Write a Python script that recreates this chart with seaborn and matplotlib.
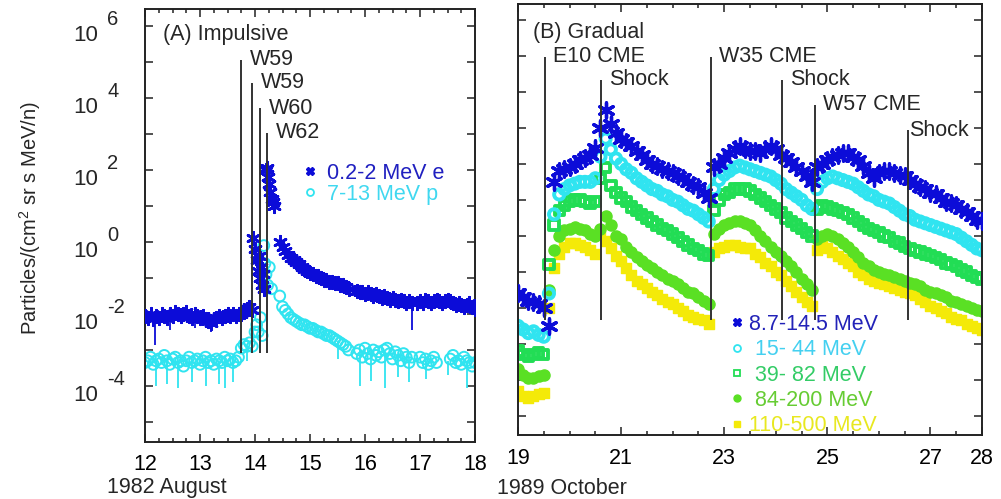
import numpy as np
import seaborn as sns
import matplotlib
matplotlib.use("Agg")
import matplotlib.pyplot as plt
from matplotlib.lines import Line2D
from matplotlib.ticker import FixedLocator, MultipleLocator, NullFormatter, NullLocator

sns.set_theme(style="ticks")
plt.rcParams['font.family'] = ['Liberation Sans', 'DejaVu Sans']
plt.rcParams['mathtext.fontset'] = 'custom'
plt.rcParams['mathtext.rm'] = 'Liberation Sans'

# ---------------- (A) impulsive, 1982 August (log10 flux) ----------------
e_v1 = [-2.05, -2.10, -2.00, -2.15, -2.05, -2.10, -2.00, -2.05, -2.10, -2.00,
        -2.05, -1.95, -2.00, -2.05, -2.00, -1.95, -2.05, -2.10, -2.00, -2.05,
        -2.10, -2.05, -2.15, -2.20, -2.25, -2.15, -2.10, -2.05, -2.10, -2.05,
        -2.00, -2.05, -2.00, -2.05, -2.00, -2.00, -1.95, -1.85, -1.80, -1.90]
e_t2 = [13.97, 14.0, 14.03, 14.05, 14.07, 14.09, 14.11, 14.13, 14.15, 14.17,
        14.2, 14.22, 14.24, 14.26, 14.28, 14.3, 14.32, 14.34]
e_v2 = [0.1, -0.2, -0.5, -0.8, -0.4, -1.0, -0.7, -1.2, -0.9, -1.3,
        2.0, 2.05, 1.8, 1.6, 1.4, 1.2, 1.1, 1.0]
e_v3 = [0.0, -0.15, -0.25, -0.35, -0.45, -0.5, -0.55, -0.6, -0.7, -0.75,
        -0.8, -0.85, -0.9, -0.95, -0.95, -1.0, -1.05, -1.05, -1.1, -1.1,
        -1.15, -1.15, -1.2, -1.2, -1.25, -1.3]
e_v4 = [-1.35, -1.4, -1.4, -1.45, -1.4, -1.45, -1.5, -1.45, -1.5, -1.55,
        -1.5, -1.55, -1.6, -1.55, -1.6, -1.65, -1.6, -1.65, -1.7, -1.65, -1.7]
e_v5 = [-1.7, -1.65, -1.7, -1.6, -1.65, -1.7, -1.65, -1.6, -1.65, -1.7,
        -1.65, -1.6, -1.65, -1.7, -1.75, -1.7, -1.75, -1.8, -1.75, -1.7,
        -1.8, -1.85]
e_bar_t = [12.18, 12.45, 12.9, 13.2, 16.85]
e_bar_hi = [-2.1, -2.1, -2.05, -2.2, -1.7]
e_bar_lo = [-2.85, -2.45, -2.4, -2.5, -2.45]

p_v1 = [-3.35, -3.3, -3.2, -3.4, -3.3, -3.25, -3.35, -3.15, -3.3, -3.4,
        -3.25, -3.2, -3.35, -3.3, -3.45, -3.3, -3.2, -3.35, -3.3, -3.25,
        -3.4, -3.3, -3.2, -3.35, -3.3, -3.4, -3.25, -3.3, -3.35, -3.2,
        -3.3, -3.25, -3.35, -3.3, -3.2]
p_t2 = [13.75, 13.8, 13.85, 13.9, 13.95, 14.0, 14.03, 14.06, 14.1, 14.13,
        14.16, 14.18, 14.2, 14.23, 14.26, 14.3]
p_v2 = [-2.95, -2.85, -2.9, -2.8, -2.9, -2.5, -2.3, -2.5, -2.1, -2.6,
        -0.1, -0.6, -0.9, -1.2, -0.7, -1.3]
p_v3 = [-1.5, -1.8, -1.9, -2.0, -2.1, -2.15, -2.2, -2.25, -2.3, -2.3,
        -2.35, -2.4, -2.4, -2.45, -2.5, -2.5, -2.55, -2.6, -2.6, -2.65,
        -2.7, -2.75, -2.8, -2.85, -2.9, -3.0]
p_v4 = [-3.1, -3.0, -3.2, -2.95, -3.1, -3.25, -3.0, -3.15, -3.05, -3.2,
        -3.0, -2.95, -3.1, -3.25, -3.05, -3.15, -3.3, -3.1, -3.2, -3.35, -3.2]
p_v5 = [-3.2, -3.35, -3.25, -3.4, -3.3, -3.2, -3.35]
p_v6 = [-3.25, -3.15, -3.35, -3.3, -3.4, -3.2, -3.3, -3.35, -3.45, -3.35]
p_bar_t = [12.2, 12.4, 12.6, 12.85, 13.1, 13.35, 13.45, 13.6, 13.85,
           15.5, 15.9, 16.1, 16.36, 16.6, 16.8, 17.1, 17.5, 17.85]
p_bar_hi = [-3.3, -3.3, -3.3, -3.3, -3.3, -3.3, -3.3, -3.3, -2.9,
            -2.75, -3.0, -3.0, -3.1, -3.1, -3.2, -3.3, -3.3, -3.3]
p_bar_lo = [-4.0, -3.95, -4.05, -3.9, -4.0, -3.95, -4.05, -3.9, -3.3,
            -3.25, -4.0, -3.85, -4.05, -3.75, -3.9, -3.8, -3.7, -4.05]

ev_a_t = [13.745, 13.945, 14.09, 14.22]
ev_a_top = [5.06, 4.42, 3.72, 3.03]
ev_a_lab = ['W59', 'W59', 'W60', 'W62']

# ---------------- (B) gradual, 1989 October (log10 flux, every 0.1 day) ----------------
p8_14 = [-1.6, -1.7, -1.8, -1.85, -1.9, -2.0, -2.5, 1.5, 1.8, 1.85,
         1.9, 2.0, 2.1, 2.15, 2.25, 2.45, 3.0, 3.5, 3.1, 2.85,
         2.7, 2.6, 2.5, 2.35, 2.25, 2.1, 2.0, 1.95, 1.85, 1.8,
         1.75, 1.65, 1.6, 1.5, 1.4, 1.35, 1.2, 1.05, 1.9, 2.0,
         2.15, 2.3, 2.4, 2.5, 2.4, 2.35, 2.35, 2.3, 2.4, 2.5,
         2.4, 2.25, 2.15, 2.05, 1.9, 1.8, 1.65, 1.5, 1.9, 2.0,
         2.1, 2.2, 2.25, 2.3, 2.3, 2.2, 2.1, 1.95, 1.75, 1.6,
         1.75, 1.8, 1.8, 1.75, 1.7, 1.65, 1.55, 1.45, 1.35, 1.3,
         1.2, 1.15, 1.05, 0.95, 0.9, 0.85, 0.75, 0.65, 0.55, 0.45,
         0.4]
p15_44 = [-2.5, -2.6, -2.7, -2.65, -2.75, -2.8, -1.6, 0.6, 1.15, 1.3,
          1.4, 1.45, 1.5, 1.5, 1.5, 1.6, 2.2, 2.7, 2.4, 2.15,
          2.0, 1.85, 1.75, 1.6, 1.5, 1.4, 1.3, 1.25, 1.15, 1.1,
          1.0, 0.95, 0.85, 0.75, 0.7, 0.6, 0.5, 0.4, 1.3, 1.55,
          1.7, 1.8, 1.9, 1.95, 1.9, 1.85, 1.8, 1.75, 1.7, 1.65,
          1.55, 1.45, 1.3, 1.2, 1.1, 1.0, 0.85, 0.75, 1.3, 1.5,
          1.6, 1.65, 1.6, 1.55, 1.5, 1.45, 1.35, 1.25, 1.15, 1.1,
          1.0, 0.95, 0.9, 0.8, 0.7, 0.6, 0.55, 0.45, 0.4, 0.35,
          0.3, 0.25, 0.2, 0.15, 0.1, 0.05, -0.05, -0.15, -0.25, -0.35,
          -0.4]
p39_82 = [-3.2, -3.3, -3.35, -3.3, -3.25, -3.3, -0.8, 0.3, 0.7, 0.85,
          0.95, 1.0, 1.0, 0.95, 0.9, 0.95, 1.6, 1.9, 1.4, 1.2,
          1.05, 0.95, 0.8, 0.7, 0.6, 0.5, 0.4, 0.3, 0.2, 0.15,
          0.05, -0.05, -0.15, -0.25, -0.35, -0.4, -0.5, -0.55, 0.7, 1.0,
          1.15, 1.2, 1.3, 1.3, 1.3, 1.25, 1.15, 1.05, 0.95, 0.85,
          0.75, 0.65, 0.5, 0.4, 0.3, 0.2, 0.1, 0.0, 0.75, 0.85,
          0.8, 0.75, 0.7, 0.65, 0.6, 0.5, 0.4, 0.3, 0.2, 0.15,
          0.1, 0.0, -0.05, -0.15, -0.2, -0.3, -0.35, -0.4, -0.45, -0.5,
          -0.55, -0.6, -0.65, -0.75, -0.8, -0.85, -0.95, -1.0, -1.1, -1.15,
          -1.2]
p84_200 = [-3.7, -3.85, -3.95, -3.95, -3.9, -3.85, -1.5, -0.4, 0.0, 0.15,
           0.2, 0.25, 0.2, 0.15, 0.05, 0.0, 0.2, 0.55, 0.3, 0.0,
           -0.1, -0.3, -0.45, -0.6, -0.7, -0.8, -0.9, -1.0, -1.1, -1.2,
           -1.25, -1.35, -1.45, -1.55, -1.6, -1.7, -1.8, -1.9, 0.05, 0.2,
           0.3, 0.35, 0.4, 0.4, 0.35, 0.3, 0.15, 0.0, -0.15, -0.3,
           -0.45, -0.55, -0.7, -0.85, -1.0, -1.2, -1.35, -1.5, -0.1, 0.0,
           0.05, 0.0, -0.1, -0.2, -0.3, -0.45, -0.6, -0.75, -0.85, -0.95,
           -1.0, -1.05, -1.1, -1.15, -1.2, -1.25, -1.3, -1.35, -1.4, -1.5,
           -1.55, -1.6, -1.65, -1.7, -1.8, -1.85, -1.9, -1.95, -2.0, -2.05,
           -2.1]
p110_500 = [-4.3, -4.45, -4.5, -4.45, -4.4, -4.35, -2.0, -0.9, -0.5, -0.3,
            -0.2, -0.2, -0.25, -0.3, -0.4, -0.5, 0.1, -0.15, -0.35, -0.55,
            -0.7, -0.9, -1.1, -1.25, -1.35, -1.45, -1.55, -1.65, -1.75, -1.85,
            -1.9, -2.0, -2.1, -2.2, -2.25, -2.3, -2.35, -2.45, -0.45, -0.35,
            -0.3, -0.25, -0.25, -0.3, -0.35, -0.35, -0.5, -0.6, -0.75, -0.85,
            -1.0, -1.1, -1.25, -1.4, -1.55, -1.7, -1.85, -1.95, -0.4, -0.25,
            -0.35, -0.45, -0.55, -0.65, -0.75, -0.85, -1.0, -1.1, -1.2, -1.25,
            -1.3, -1.35, -1.4, -1.45, -1.5, -1.55, -1.6, -1.65, -1.75, -1.85,
            -1.95, -2.0, -2.1, -2.15, -2.25, -2.3, -2.35, -2.45, -2.5, -2.55,
            -2.6]

ev_b_t = [19.52, 20.61, 22.74, 24.12, 24.76, 26.56]
ev_b_top = [4.97, 4.33, 4.97, 4.33, 3.64, 2.94]
ev_b_lab = ['E10 CME', 'Shock', 'W35 CME', 'Shock', 'W57 CME', 'Shock']

BLUE, CYAN, LGREEN, GREEN, YELLOW = '#0c0cd8', '#30e4f0', '#22dd55', '#5ae024', '#f4ea08'
ASTER = (6, 2, 0)
FS = 15.5

fig = plt.figure(figsize=(10.01, 4.99), dpi=100)
fig.patch.set_facecolor('white')
axA = fig.add_axes([145 / 1001, 1 - 442 / 499, 330 / 1001, 433 / 499])
axB = fig.add_axes([518 / 1001, 1 - 435 / 499, 464 / 1001, 431 / 499])


def scat(ax, t, v, **kw):
    sns.scatterplot(x=np.asarray(t), y=10.0 ** np.asarray(v), ax=ax, legend=False, **kw)


# panel A
e_t = np.concatenate([np.linspace(12.0, 13.95, len(e_v1)), e_t2,
                      np.linspace(14.45, 15.7, len(e_v3)), np.linspace(15.85, 16.85, len(e_v4)),
                      np.linspace(16.95, 18.0, len(e_v5))])
e_v = np.concatenate([e_v1, e_v2, e_v3, e_v4, e_v5])
p_t = np.concatenate([np.linspace(12.0, 13.7, len(p_v1)), p_t2,
                      np.linspace(14.45, 15.7, len(p_v3)), np.linspace(15.85, 16.85, len(p_v4)),
                      np.linspace(17.0, 17.3, len(p_v5)), np.linspace(17.55, 18.0, len(p_v6))])
p_v = np.concatenate([p_v1, p_v2, p_v3, p_v4, p_v5, p_v6])

axA.vlines(p_bar_t, 10.0 ** np.array(p_bar_lo), 10.0 ** np.array(p_bar_hi), color=CYAN, lw=1.3, zorder=2)
axA.vlines(e_bar_t, 10.0 ** np.array(e_bar_lo), 10.0 ** np.array(e_bar_hi), color=BLUE, lw=1.3, zorder=3)
scat(axA, p_t, p_v, marker='o', s=60, color=CYAN, facecolor='none', edgecolor=CYAN, linewidth=1.4, zorder=2)
scat(axA, e_t, e_v, marker=ASTER, s=80, color=BLUE, edgecolor=BLUE, linewidth=2.0, zorder=3)
axA.vlines(ev_a_t, 10.0 ** -3.08, 10.0 ** np.array(ev_a_top), color='#333333', lw=1.4, zorder=4)
for t, top, lab in zip(ev_a_t, ev_a_top, ev_a_lab):
    axA.annotate(lab, (t, 10.0 ** top), xytext=(6.5, 0), textcoords='offset points',
                 va='center', ha='left', fontsize=FS)
axA.text(0.055, 0.94, '(A) Impulsive', transform=axA.transAxes, fontsize=FS, va='center')
hA = [Line2D([], [], ls='none', marker='X', ms=6, color=BLUE),
      Line2D([], [], ls='none', marker='o', ms=5, mfc='none', mec=CYAN, mew=1.3)]
axA.legend(hA, ['0.2-2 MeV e', '7-13 MeV p'], loc='upper left', bbox_to_anchor=(304 / 1001, 1 - 163 / 499),
           bbox_transform=fig.transFigure, frameon=False, fontsize=FS, handlelength=0.55,
           handletextpad=0.5, borderpad=0, borderaxespad=0, labelspacing=0.0,
           labelcolor=['#2020c0', '#40d8f0'])

axA.set_xlim(12, 18)
axA.set_ylim(10.0 ** -5.556, 10.0 ** 6.47)
axA.xaxis.set_major_locator(MultipleLocator(1))
axA.xaxis.set_minor_locator(MultipleLocator(0.25))
axA.xaxis.set_major_formatter(matplotlib.ticker.FuncFormatter(lambda x, p: f'{x:.0f}'))

# panel B
r_t = np.linspace(19.0, 28.0, len(p8_14))
scat(axB, r_t, p110_500, marker='s', s=52, color=YELLOW, edgecolor=YELLOW, linewidth=1.0, zorder=2)
scat(axB, r_t, p84_200, marker='o', s=64, color=GREEN, edgecolor=GREEN, linewidth=1.0, zorder=2)
scat(axB, r_t, p39_82, marker='s', s=46, color=LGREEN, facecolor='none', edgecolor=LGREEN, linewidth=2.8, zorder=2)
scat(axB, r_t, p15_44, marker='o', s=54, color=CYAN, facecolor='none', edgecolor=CYAN, linewidth=2.8, zorder=2)
scat(axB, r_t, p8_14, marker=ASTER, s=120, color=BLUE, edgecolor=BLUE, linewidth=2.4, zorder=3)
axB.vlines(ev_b_t, 10.0 ** -2.33, 10.0 ** np.array(ev_b_top), color='#333333', lw=1.4, zorder=4)
for i, (t, top, lab) in enumerate(zip(ev_b_t, ev_b_top, ev_b_lab)):
    axB.annotate(lab, (t, 10.0 ** top), xytext=(6 if i < 5 else 0.8, 0), textcoords='offset points',
                 va='center', ha='left', fontsize=FS)
axB.text(0.033, 0.935, '(B) Gradual', transform=axB.transAxes, fontsize=FS, va='center')
hB = [Line2D([], [], ls='none', marker='X', ms=6, color=BLUE),
      Line2D([], [], ls='none', marker='o', ms=5, mfc='none', mec=CYAN, mew=1.3),
      Line2D([], [], ls='none', marker='s', ms=5, mfc='none', mec=LGREEN, mew=1.3),
      Line2D([], [], ls='none', marker='o', ms=5, color=GREEN),
      Line2D([], [], ls='none', marker='s', ms=5, color=YELLOW)]
axB.legend(hB, ['8.7-14.5 MeV', ' 15- 44 MeV', ' 39- 82 MeV', ' 84-200 MeV', '110-500 MeV'],
           loc='upper left', bbox_to_anchor=(731 / 1001, 1 - 314 / 499), bbox_transform=fig.transFigure,
           frameon=False, fontsize=FS, handlelength=0.55, handletextpad=0.3, borderpad=0,
           borderaxespad=0, labelspacing=0.2,
           labelcolor=['#2222b8', '#44d0f0', '#33cc66', '#66cc33', '#e8e820'])
axB.set_xlim(19, 28)
axB.set_ylim(10.0 ** -5.53, 10.0 ** 6.44)
axB.xaxis.set_major_locator(FixedLocator([19, 21, 23, 25, 27, 28]))
axB.xaxis.set_minor_locator(MultipleLocator(0.5))
axB.xaxis.set_major_formatter(matplotlib.ticker.FuncFormatter(lambda x, p: f'{x:.0f}'))

for ax in (axA, axB):
    ax.set_yscale('log')
    ax.yaxis.set_major_locator(FixedLocator([10.0 ** k for k in range(-5, 7)]))
    ax.yaxis.set_minor_locator(NullLocator())
    ax.yaxis.set_major_formatter(NullFormatter())
    ax.set_xlabel('')
    ax.set_ylabel('')
    ax.tick_params(which='both', direction='in', top=True, right=True, colors='#222222', width=1.1)
    ax.tick_params(which='major', length=6)
    ax.tick_params(which='minor', length=3)
    ax.tick_params(axis='x', which='major', pad=9, labelsize=FS, labelcolor='black')
    for sp in ax.spines.values():
        sp.set_linewidth(1.4)
        sp.set_color('#222222')
    ax.set_facecolor('white')

# y tick labels "10^k" on panel A
for k in [6, 4, 2, 0, -2, -4]:
    axA.annotate('10', (0, 10.0 ** k), xycoords=('axes fraction', 'data'), xytext=(-34, -7),
                 textcoords='offset points', ha='right', va='center', fontsize=FS + 0.5)
    axA.annotate(f'{k}', (0, 10.0 ** k), xycoords=('axes fraction', 'data'), xytext=(-27, 4.5),
                 textcoords='offset points', ha='left', va='center', fontsize=FS - 1)

fig.text(30 / 1001, 1 - 218 / 499, 'Particles/(cm$^2$ sr s MeV/n)', rotation=90,
         ha='center', va='center', fontsize=FS - 1)
fig.text(107 / 1001, 1 - 488 / 499, '1982 August', ha='left', va='center', fontsize=FS)
fig.text(497 / 1001, 1 - 488 / 499, '1989 October', ha='left', va='center', fontsize=FS)

fig.savefig('out.png', dpi=100)
